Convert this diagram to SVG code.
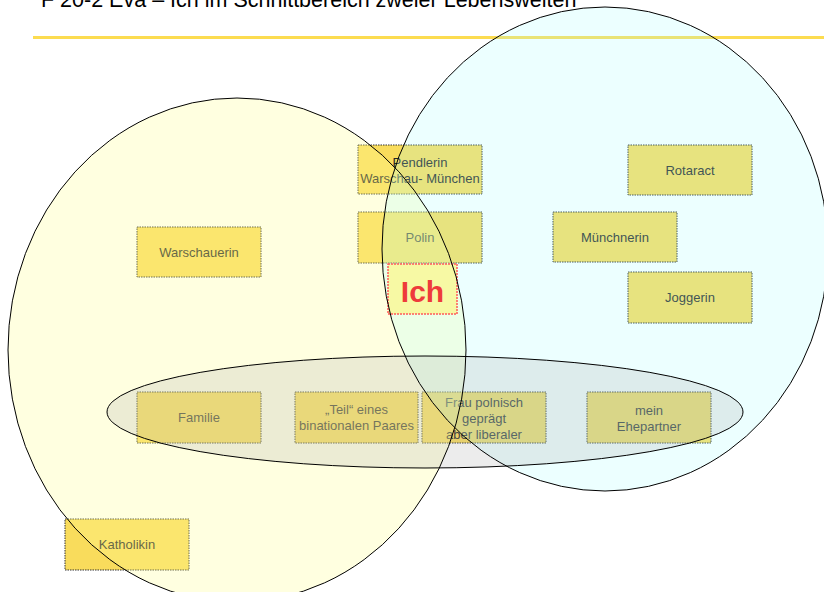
<svg xmlns="http://www.w3.org/2000/svg" width="824" height="592" viewBox="0 0 824 592">
  <style>
    .box { fill: #f9dc5c; stroke: #333333; stroke-width: 1; stroke-dasharray: 1.5 1; }
    .lbl { font-family: "Liberation Sans", Arial, sans-serif; font-size: 13px; fill: #262626; text-anchor: middle; }
    .ring { fill: none; stroke: #000000; stroke-width: 1; }
  </style>
  <defs>
    <ellipse id="warschau-form" cx="237" cy="350" rx="229" ry="252"/>
    <ellipse id="muenchen-form" cx="605" cy="249" rx="223" ry="242"/>
    <ellipse id="familien-form" cx="425" cy="412" rx="318" ry="56"/>
  </defs>
  <rect width="824" height="592" fill="#ffffff"/>

  <!-- heading and rule -->
  <text x="41" y="7" font-family="Liberation Sans, Arial, sans-serif" font-size="21.5" fill="#000000">F 20-2 Eva – Ich im Schnittbereich zweier Lebenswelten</text>
  <rect x="33" y="36" width="791" height="3" fill="#fcdc50"/>

  <!-- role boxes -->
  <g id="pendlerin">
    <rect class="box" x="358" y="145" width="124" height="49"/>
    <text class="lbl" x="420" y="167">Pendlerin</text>
    <text class="lbl" x="420" y="183">Warschau- München</text>
  </g>
  <g id="polin">
    <rect class="box" x="358" y="212" width="124" height="51"/>
    <text class="lbl" x="420" y="242">Polin</text>
  </g>
  <g id="rotaract">
    <rect class="box" x="628" y="145" width="124" height="50"/>
    <text class="lbl" x="690" y="175">Rotaract</text>
  </g>
  <g id="muenchnerin">
    <rect class="box" x="553" y="212" width="124" height="50"/>
    <text class="lbl" x="615" y="242">Münchnerin</text>
  </g>
  <g id="joggerin">
    <rect class="box" x="628" y="272" width="124" height="51"/>
    <text class="lbl" x="690" y="302">Joggerin</text>
  </g>
  <g id="warschauerin">
    <rect class="box" x="137" y="227" width="124" height="50"/>
    <text class="lbl" x="199" y="257">Warschauerin</text>
  </g>
  <g id="familie">
    <rect class="box" x="137" y="392" width="124" height="51"/>
    <text class="lbl" x="199" y="422">Familie</text>
  </g>
  <g id="binational">
    <rect class="box" x="295" y="392" width="123" height="51"/>
    <text class="lbl" x="356.5" y="414">„Teil“ eines</text>
    <text class="lbl" x="356.5" y="430">binationalen Paares</text>
  </g>
  <g id="frau-polnisch">
    <rect class="box" x="422" y="392" width="124" height="51"/>
    <text class="lbl" x="484" y="407">Frau polnisch</text>
    <text class="lbl" x="484" y="423">geprägt</text>
    <text class="lbl" x="484" y="438.5">aber liberaler</text>
  </g>
  <g id="ehepartner">
    <rect class="box" x="587" y="392" width="124" height="51"/>
    <text class="lbl" x="649" y="415">mein</text>
    <text class="lbl" x="649" y="431">Ehepartner</text>
  </g>
  <g id="katholikin">
    <rect class="box" x="65" y="519" width="124" height="51"/>
    <text class="lbl" x="127" y="549">Katholikin</text>
  </g>

  <!-- translucent fills of the two life worlds and the family ring -->
  <g id="lebenswelten-flaechen">
    <use href="#warschau-form" fill="#ffff99" fill-opacity="0.3"/>
    <use href="#muenchen-form" fill="#aaffff" fill-opacity="0.22"/>
    <use href="#familien-form" fill="#aaaaaa" fill-opacity="0.22"/>
  </g>

  <!-- the self, where both worlds meet -->
  <g id="ich">
    <rect x="388" y="264" width="69" height="50" fill="#f7f9a4" stroke="#ff5a5a" stroke-width="1.5" stroke-dasharray="2 1"/>
    <text x="422.5" y="302" font-family="Liberation Sans, Arial, sans-serif" font-size="30" font-weight="bold" fill="#ee3b3b" text-anchor="middle">Ich</text>
  </g>

  <!-- outlines of the worlds, drawn last -->
  <g id="lebenswelten-linien">
    <use href="#warschau-form" class="ring"/>
    <use href="#muenchen-form" class="ring"/>
    <use href="#familien-form" class="ring"/>
  </g>
</svg>
